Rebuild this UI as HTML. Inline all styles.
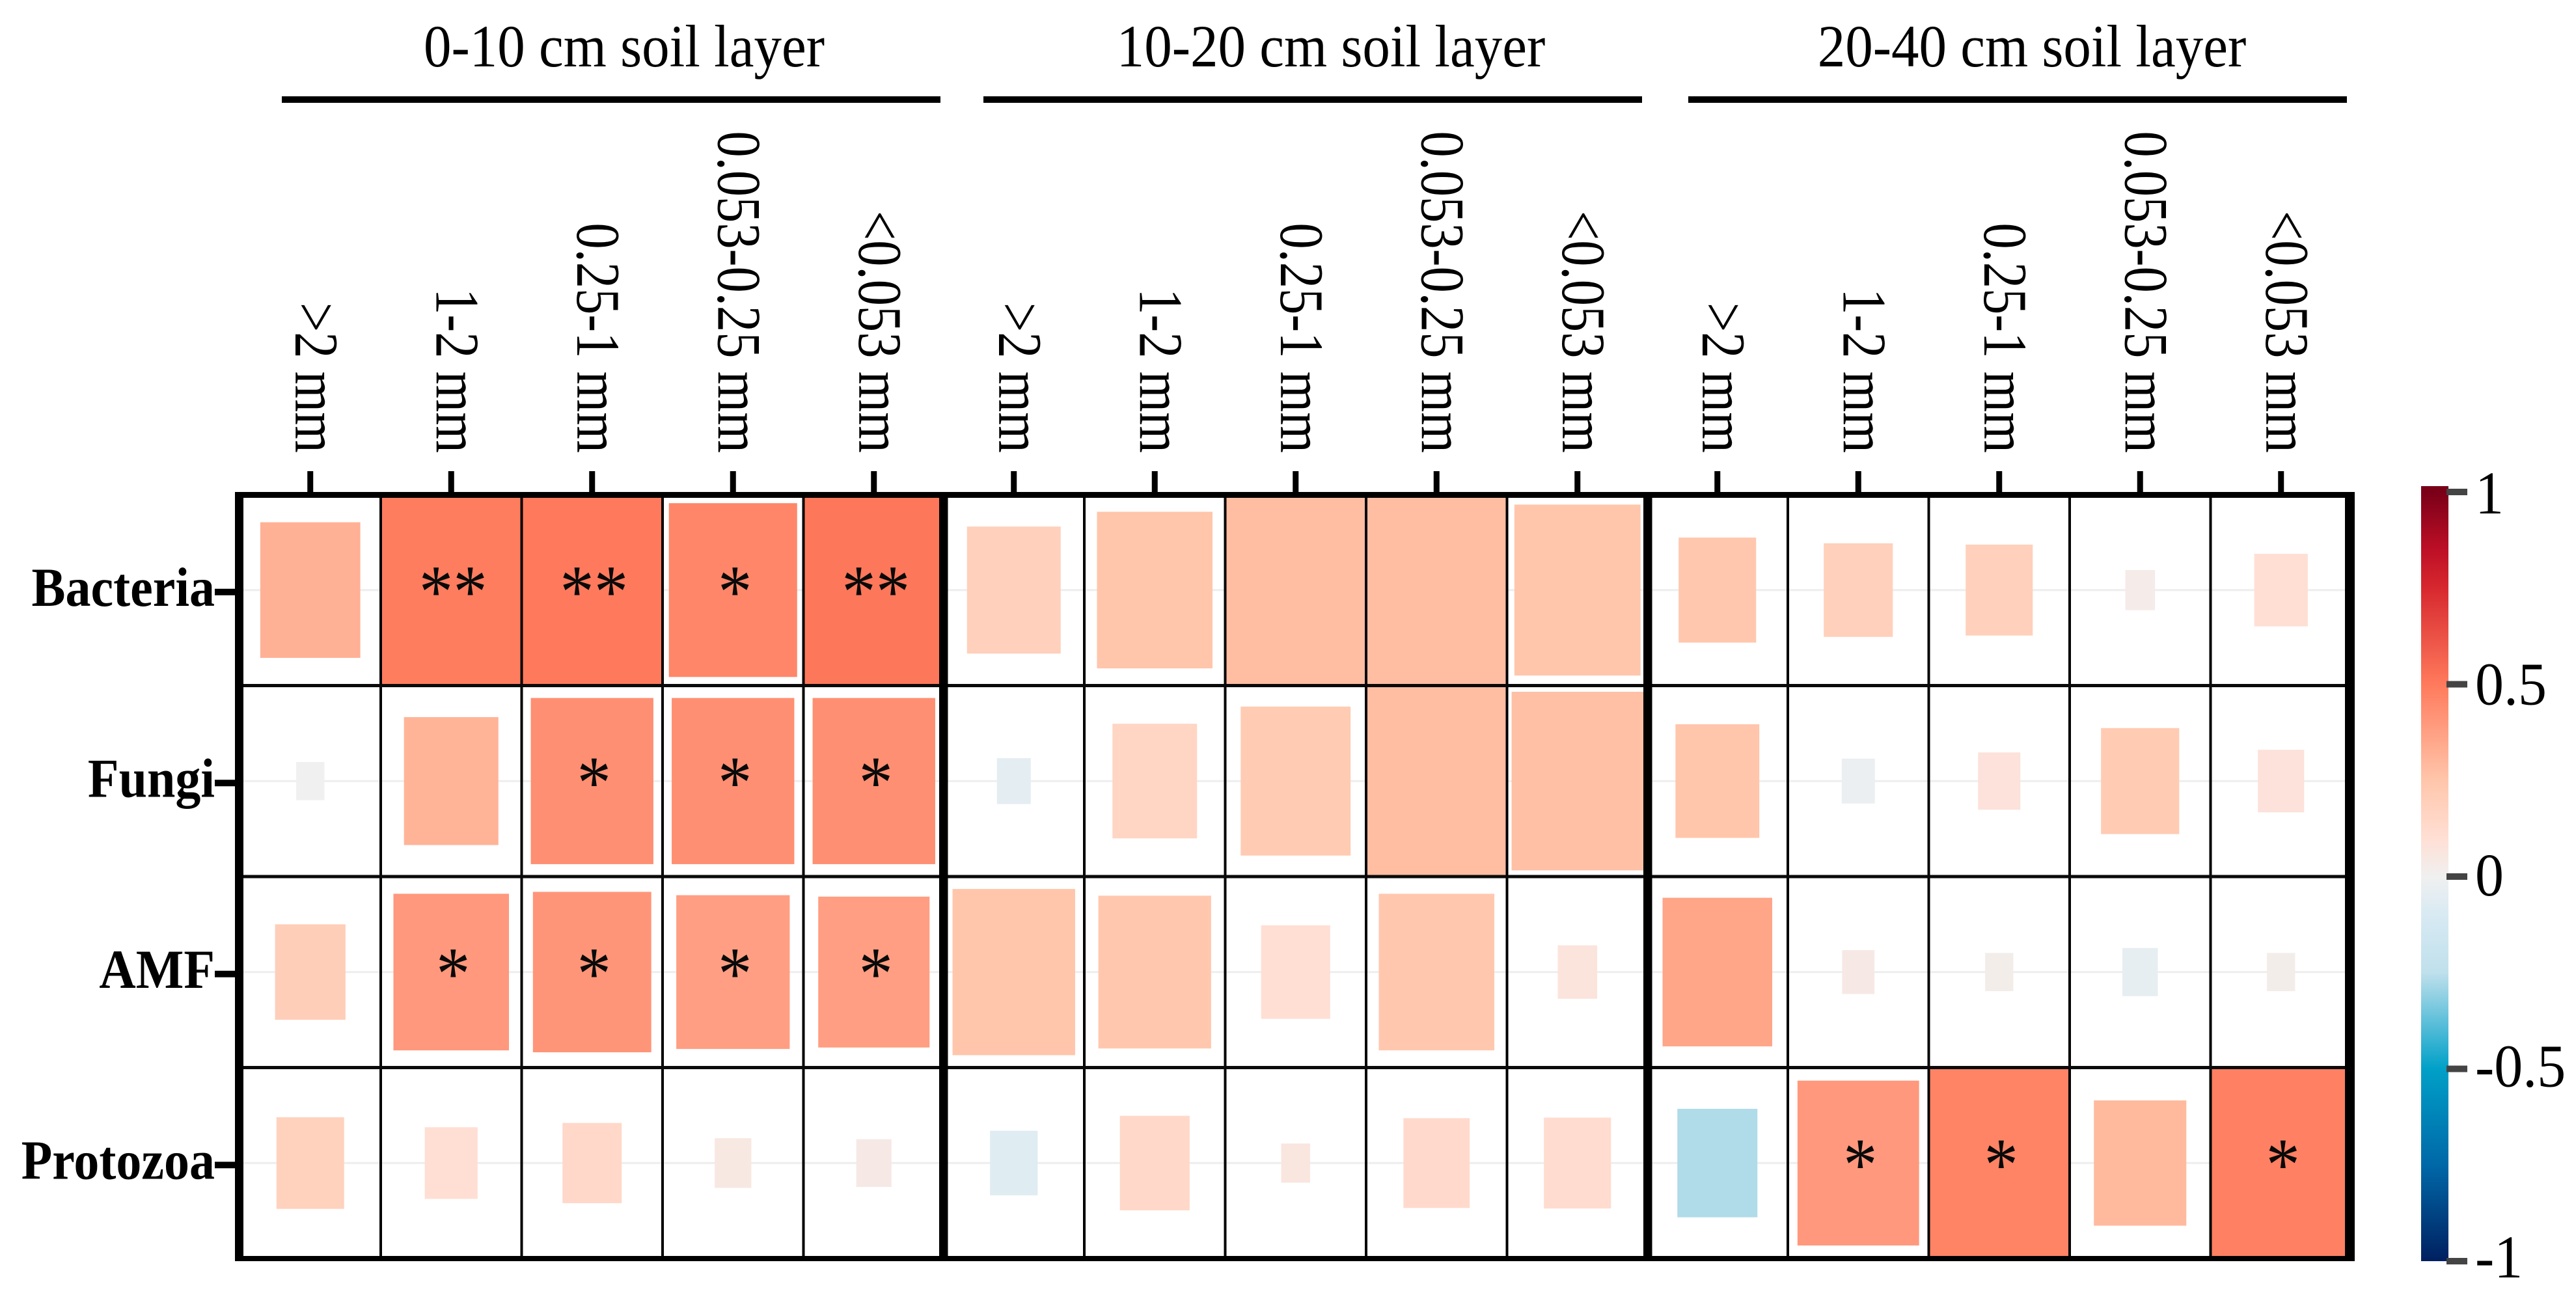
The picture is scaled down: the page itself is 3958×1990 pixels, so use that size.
<!DOCTYPE html>
<html lang="en">
<head>
<meta charset="utf-8">
<title>Soil layer correlation heatmap</title>
<style>
html,body{margin:0;padding:0;background:#fff;width:3958px;height:1990px;overflow:hidden}
svg{display:block;font-family:"Liberation Serif","Times New Roman",serif}
</style>
</head>
<body>
<svg id="chart" xmlns="http://www.w3.org/2000/svg" width="3958" height="1990" viewBox="0 0 3958 1990"></svg>
<script>
const groupLabels = ["0-10 cm soil layer", "10-20 cm soil layer", "20-40 cm soil layer"];
const sizeClasses = [">2 mm", "1-2 mm", "0.25-1 mm", "0.053-0.25 mm", "<0.053 mm"];
const rowLabels = ["Bacteria", "Fungi", "AMF", "Protozoa"];

const bacteriaValues = [0.32,0.49,0.50,0.46,0.51, 0.19,0.25,0.28,0.28,0.25, 0.24,0.19,0.19,0.03,0.10];
const fungiValues    = [0.00,0.31,0.43,0.43,0.43, -0.05,0.16,0.22,0.28,0.27, 0.25,-0.02,0.08,0.22,0.08];
const amfValues      = [0.20,0.40,0.41,0.38,0.38, 0.25,0.24,0.10,0.24,0.07, 0.36,0.04,0.02,-0.04,0.02];
const protozoaValues = [0.18,0.10,0.14,0.05,0.04, -0.07,0.14,0.06,0.13,0.12, -0.27,0.40,0.47,0.29,0.48];
const correlationValues = [bacteriaValues, fungiValues, amfValues, protozoaValues];

const bacteriaSizes = [0.71,1,1,0.91,1, 0.665,0.82,1,1,0.895, 0.55,0.49,0.476,0.21,0.38];
const fungiSizes    = [0.20,0.67,0.87,0.87,0.87, 0.24,0.60,0.78,1,0.935, 0.595,0.235,0.30,0.555,0.328];
const amfSizes      = [0.50,0.82,0.84,0.805,0.79, 0.87,0.80,0.49,0.82,0.28, 0.778,0.23,0.20,0.252,0.20];
const protozoaSizes = [0.48,0.375,0.42,0.26,0.25, 0.338,0.495,0.205,0.47,0.476, 0.568,0.863,1,0.656,1];
const markerSizes = [bacteriaSizes, fungiSizes, amfSizes, protozoaSizes];

const bacteriaStars = ["","**","**","*","**", "","","","","", "","","","",""];
const fungiStars    = ["","","*","*","*", "","","","","", "","","","",""];
const amfStars      = ["","*","*","*","*", "","","","","", "","","","",""];
const protozoaStars = ["","","","","", "","","","","", "","*","*","","*"];
const significance = [bacteriaStars, fungiStars, amfStars, protozoaStars];

const colorbarTicks = [1, 0.5, 0, -0.5, -1];
const colorbarTickLabels = ["1", "0.5", "0", "-0.5", "-1"];
const scaleValues = [-1, -0.75, -0.5, -0.25, -0.1, 0, 0.1, 0.25, 0.5, 0.75, 0.85, 1];
const scaleColors = ["#002060", "#0068a8", "#00a0c8", "#bfe0ec", "#d8eaf3", "#f0f0f0", "#ffdfd4", "#ffc6ab", "#ff7a5c", "#d7282f", "#bd0f26", "#7a0018"];

/* axis functions */
const nCols = sizeClasses.length;
function groupLeft(g) { return 368.5 + 1081 * g; }
function colEdge(g, c) { return groupLeft(g) + 216.5 * c; }
function colCenter(g, c) { return colEdge(g, c) + 108.25; }
function rowEdge(r) { return 760 + 293.5 * r; }
function rowCenter(r) { return rowEdge(r) + 146.75; }
function barY(v) { return 1347 - 591 * v; }
function barLabelY(v) { return 1376 - 587 * v; }

function hexToRgb(h) {
  return [parseInt(h.slice(1, 3), 16), parseInt(h.slice(3, 5), 16), parseInt(h.slice(5, 7), 16)];
}
function colorOf(v) {
  let i = 0;
  while (i < scaleValues.length - 2 && v > scaleValues[i + 1]) i++;
  const t = (v - scaleValues[i]) / (scaleValues[i + 1] - scaleValues[i]);
  const a = hexToRgb(scaleColors[i]);
  const b = hexToRgb(scaleColors[i + 1]);
  return "rgb(" + a.map((x, k) => Math.round(x + (b[k] - x) * t)).join(",") + ")";
}

const svg = document.getElementById("chart");
const NS = "http://www.w3.org/2000/svg";
function make(tag, parent, props) {
  const e = document.createElementNS(NS, tag);
  for (const k in props) e.setAttribute(k, props[k]);
  parent.appendChild(e);
  return e;
}

/* background */
const bg = make("rect", svg, {x: 0, y: 0, width: 3958, height: 1990, fill: "#fff"});



/* row grid lines behind cells */
rowLabels.forEach((name, r) => {
  const g = make("rect", svg, {x: 374, y: rowCenter(r) - 1.5, width: 3230, height: 3, fill: "#eeeeee"});
  
  
});

/* heatmap cells */
correlationValues.forEach((rowVals, r) => {
  rowVals.forEach((v, i) => {
    const g = Math.floor(i / nCols);
    const c = i % nCols;
    const f = markerSizes[r][i];
    const w = 216.5 * f;
    const h = 293.5 * f;
    const cell = make("rect", svg, {
      x: colCenter(g, c) - w / 2,
      y: rowCenter(r) - h / 2,
      width: w,
      height: h,
      fill: colorOf(v)
    });
    
    
  });
});

/* thin cell borders */
groupLabels.forEach((gl, g) => {
  for (let c = 1; c < nCols; c++) {
    const line = make("rect", svg, {x: colEdge(g, c) - 2, y: 760, width: 4, height: 1174, fill: "#000"});
    
    
  }
});
for (let r = 1; r < rowLabels.length; r++) {
  const line = make("rect", svg, {x: 368, y: rowEdge(r) - 2.5, width: 3240, height: 5, fill: "#0a0a0a"});
  
  
}

/* thick group dividers and frame */
[[1443, 13.5], [2525, 13.5]].forEach(d => {
  const line = make("rect", svg, {x: d[0], y: 756, width: d[1], height: 1182, fill: "#000"});
  
  
});
const frameTop = make("rect", svg, {x: 361, y: 756, width: 3257, height: 9, fill: "#000"});


const frameBottom = make("rect", svg, {x: 361, y: 1930, width: 3257, height: 8, fill: "#000"});


const frameLeft = make("rect", svg, {x: 361, y: 756, width: 13, height: 1182, fill: "#000"});


const frameRight = make("rect", svg, {x: 3603, y: 756, width: 15, height: 1182, fill: "#000"});



/* significance stars */
significance.forEach((rowStars, r) => {
  rowStars.forEach((s, i) => {
    if (!s) return;
    const g = Math.floor(i / nCols);
    const c = i % nCols;
    const t = make("text", svg, {
      transform: "translate(" + (colCenter(g, c) + 3) + "," + (rowCenter(r) + 41) + ") scale(1,1.1)",
      "text-anchor": "middle",
      "font-size": 105,
      fill: "#0a0a0a"
    });
    t.textContent = s;
    
    
  });
});

/* x ticks + labels */
groupLabels.forEach((gl, g) => {
  sizeClasses.forEach((lab, c) => {
    const cx = colCenter(g, c);
    const tick = make("rect", svg, {x: cx - 4.5, y: 724, width: 9, height: 33, fill: "#000"});
    
    
    const t = make("text", svg, {
      transform: "translate(" + (cx - 23) + ",696) rotate(90) scale(1,1.187)",
      "text-anchor": "end",
      "font-size": 80.6,
      fill: "#000"
    });
    t.textContent = lab;
    
    
  });
});

/* group titles + rules */
const titleCenters = [959, 2045, 3122];
const ruleStarts = [433, 1511, 2594];
groupLabels.forEach((gl, g) => {
  const t = make("text", svg, {
    transform: "translate(" + titleCenters[g] + ",102) scale(1,1.08)",
    "text-anchor": "middle",
    "font-size": 85,
    fill: "#000"
  });
  t.textContent = gl;
  
  
  const rule = make("rect", svg, {x: ruleStarts[g], y: 148, width: 1012, height: 10, fill: "#000"});
  
  
});

/* y ticks + labels */
rowLabels.forEach((name, r) => {
  const tick = make("rect", svg, {x: 330, y: rowCenter(r) - 2, width: 32, height: 10, fill: "#000"});
  
  
  const t = make("text", svg, {
    transform: "translate(330," + (rowCenter(r) + 24) + ") scale(1,1.085)",
    "text-anchor": "end",
    "font-size": 78,
    "font-weight": "bold",
    fill: "#000"
  });
  t.textContent = name;
  
  
});

/* colorbar */
const defs = make("defs", svg, {});
const grad = make("linearGradient", defs, {
  id: "cbar", gradientUnits: "userSpaceOnUse", x1: 0, x2: 0, y1: barY(1), y2: barY(-1)
});
for (let i = scaleValues.length - 1; i >= 0; i--) {
  make("stop", grad, {offset: (1 - scaleValues[i]) / 2, "stop-color": scaleColors[i]});
}
const bar = make("rect", svg, {x: 3720, y: 747, width: 42, height: 1191, fill: "url(#cbar)"});


colorbarTicks.forEach((v, i) => {
  const tick = make("rect", svg, {x: 3759, y: barY(v) - 5, width: 32, height: 10, fill: "#444"});
  
  
  const t = make("text", svg, {
    transform: "translate(3803," + barLabelY(v) + ") scale(1,1.06)",
    "font-size": 88,
    fill: "#000"
  });
  t.textContent = colorbarTickLabels[i];
  
  
});
</script>
</body>
</html>
